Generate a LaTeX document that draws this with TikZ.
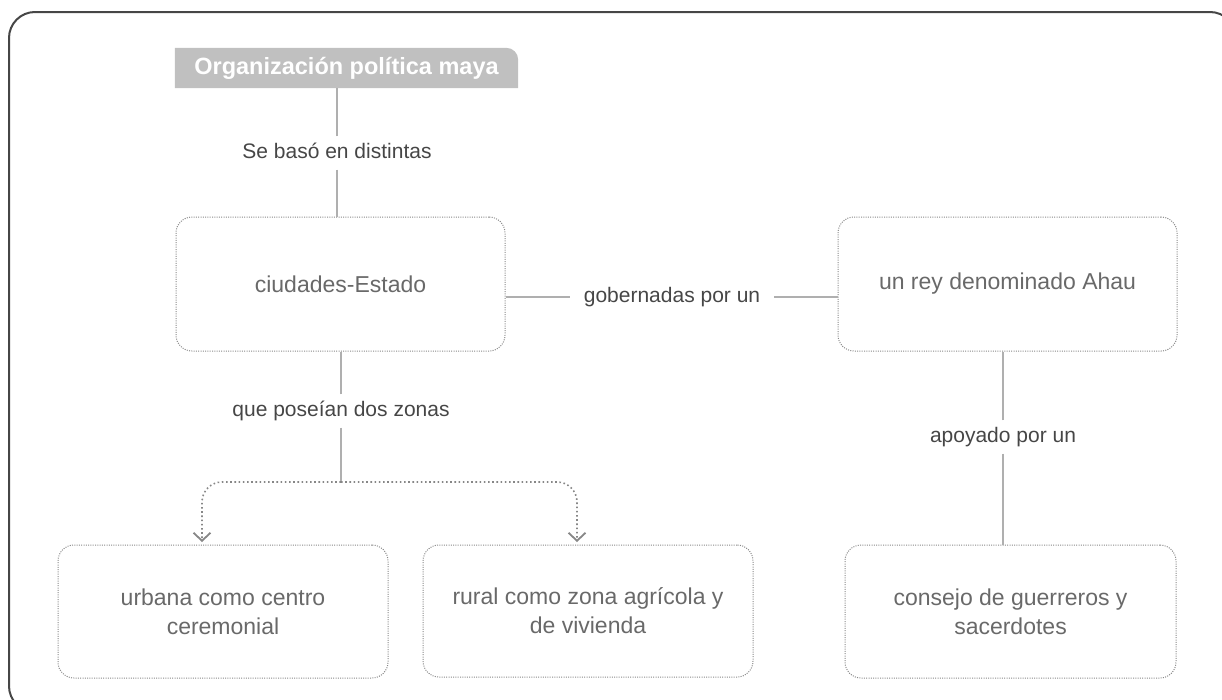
\documentclass[tikz,border=0pt]{standalone}
\usepackage{fontspec}
\setmainfont{Liberation Sans}
\usetikzlibrary{arrows.meta,backgrounds}
\definecolor{framecol}{RGB}{70,70,70}
\definecolor{boxline}{RGB}{135,135,135}
\definecolor{boxtext}{RGB}{105,105,105}
\definecolor{labeltext}{RGB}{70,70,70}
\definecolor{linkline}{RGB}{175,175,175}
\definecolor{titlefill}{RGB}{192,192,192}
\begin{document}
\begin{tikzpicture}[x=1pt,y=-1pt,
  concept/.style={draw=boxline, line width=1pt, dash pattern=on 1pt off 1.3pt,
    rounded corners=16pt, align=center, text=boxtext,
    font=\fontsize{23}{29}\selectfont, inner sep=0pt},
  linklabel/.style={text=labeltext, font=\fontsize{21}{25}\selectfont,
    text height=15pt, text depth=4pt, inner xsep=14pt, inner ysep=7pt},
  titlebox/.style={text=white, font=\fontsize{23.5}{28}\selectfont\bfseries,
    minimum width=343pt, minimum height=40pt, inner sep=0pt},
  link/.style={draw=linkline, line width=1.8pt},
  branch/.style={draw=boxline, line width=1.6pt, dash pattern=on 1.6pt off 2.6pt,
    rounded corners=20pt, -{Straight Barb[length=8pt,width=17pt,line width=1.8pt]}},
]
\useasboundingbox (0,0) rectangle (1222,699);
\clip (0,0) rectangle (1222,699);
\draw[framecol, line width=2pt, rounded corners=26pt] (9,12) rectangle (1236,712);

\node[titlebox] (title) at (346.5,68) {Organización política maya};
\begin{scope}[on background layer]
  \fill[titlefill] (title.south west) -- (title.north west)
    -- ([xshift=-12pt]title.north east) to[out=0,in=90] ([yshift=-12pt]title.north east)
    -- (title.south east) -- cycle;
\end{scope}

\node[linklabel] (l1) at (337,153) {Se basó en distintas};
\node[concept, minimum width=329pt, minimum height=134pt] (ciud) at (340.5,284) {ciudades-Estado};
\node[linklabel] (l2) at (672,297) {gobernadas por un};
\node[concept, minimum width=339pt, minimum height=134pt] (ahau) at (1007.5,284) {un rey denominado Ahau};
\node[linklabel] (l3) at (341,411) {que poseían dos zonas};
\node[linklabel] (l4) at (1003,437) {apoyado por un};
\node[concept, minimum width=330pt, minimum height=133pt] (urb) at (223,611.5) {urbana como centro\\ceremonial};
\node[concept, minimum width=330pt, minimum height=132pt] (rur) at (588,611) {rural como zona agrícola y\\de vivienda};
\node[concept, minimum width=331pt, minimum height=133pt] (cons) at (1010.5,611.5) {consejo de guerreros y\\sacerdotes};

\draw[link] (l1) -- (l1 |- title.south);
\draw[link] (l1) -- (l1 |- ciud.north);
\draw[link] (l2) -- (l2 -| ciud.east);
\draw[link] (l2) -- (l2 -| ahau.west);
\draw[link] (l3) -- (l3 |- ciud.south);
\coordinate (split) at (341,482);
\coordinate (tipU) at (202,542);
\coordinate (tipR) at (577,542);
\draw[link] (l3) -- (split);
\draw[branch] (split) -| (tipU);
\draw[branch] (split) -| (tipR);
\draw[link] (l4) -- (l4 |- ahau.south);
\draw[link] (l4) -- (l4 |- cons.north);
\end{tikzpicture}
\end{document}
